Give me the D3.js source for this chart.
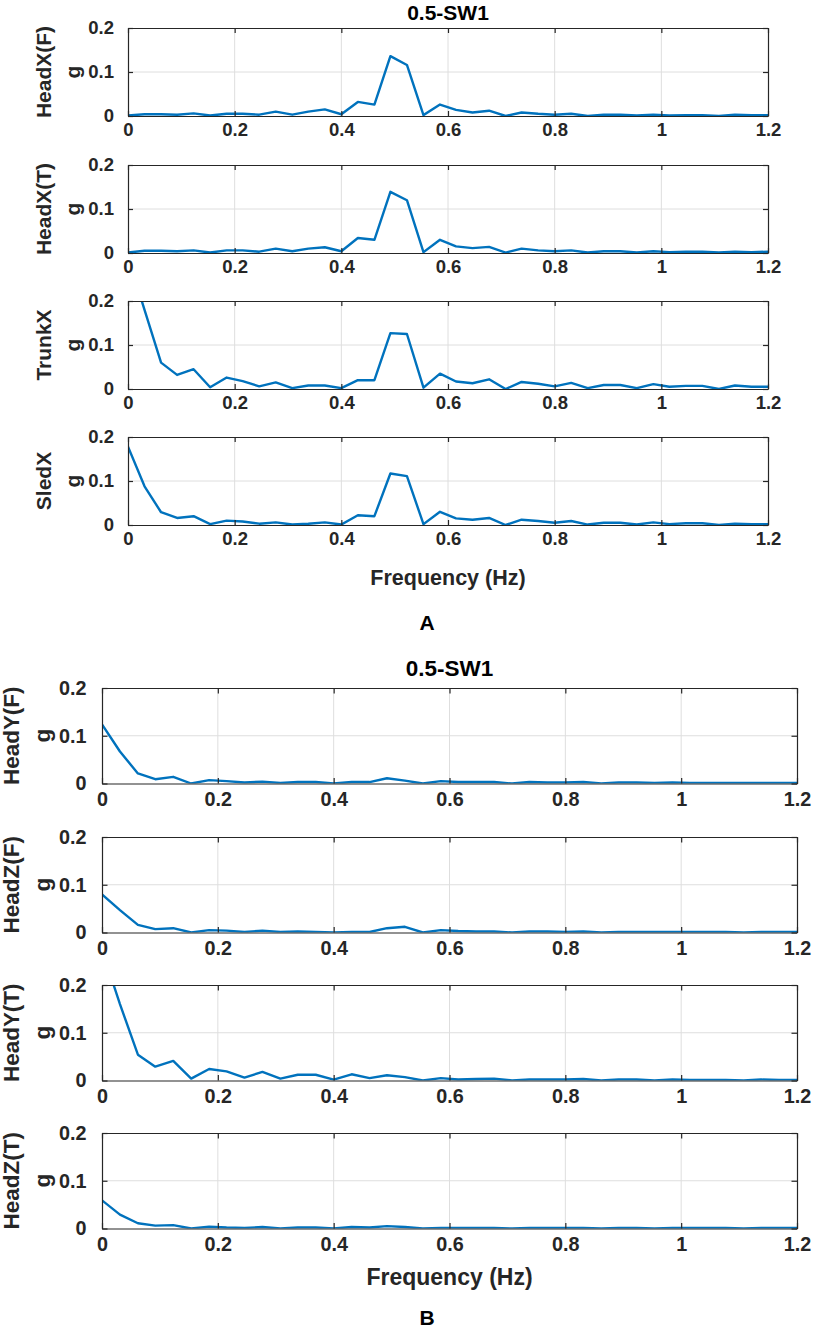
<!DOCTYPE html>
<html>
<head>
<meta charset="utf-8">
<script src="https://cdn.jsdelivr.net/npm/d3@7"></script>
<style>
  html, body { margin: 0; padding: 0; background: #fff; }
  svg { display: block; }
  text { font-family: "Liberation Sans", Arial, Helvetica, sans-serif; font-weight: bold; }
</style>
</head>
<body>
<div id="viz"></div>
<script>
// frequency bins (Hz)
const freqHz = [0, 0.031, 0.062, 0.092, 0.123, 0.154, 0.185, 0.215, 0.246, 0.277,
  0.308, 0.338, 0.369, 0.4, 0.431, 0.462, 0.492, 0.523, 0.554, 0.585,
  0.615, 0.646, 0.677, 0.708, 0.738, 0.769, 0.8, 0.831, 0.862, 0.892,
  0.923, 0.954, 0.985, 1.015, 1.046, 1.077, 1.108, 1.138, 1.169, 1.2];

// figure A: X direction
const headXF = [0.001, 0.004, 0.004, 0.003, 0.006, 0.001, 0.005, 0.005, 0.003, 0.010,
  0.003, 0.010, 0.015, 0.004, 0.032, 0.026, 0.136, 0.116, 0.002, 0.026,
  0.014, 0.008, 0.012, 0.000, 0.008, 0.005, 0.003, 0.005, 0.000, 0.003,
  0.003, 0.001, 0.003, 0.001, 0.002, 0.002, 0.000, 0.003, 0.002, 0.002];
const headXT = [0.001, 0.005, 0.005, 0.004, 0.006, 0.001, 0.006, 0.006, 0.003, 0.010,
  0.004, 0.010, 0.013, 0.004, 0.034, 0.030, 0.139, 0.120, 0.002, 0.030,
  0.015, 0.011, 0.014, 0.001, 0.010, 0.006, 0.004, 0.006, 0.001, 0.004,
  0.004, 0.001, 0.004, 0.002, 0.003, 0.003, 0.001, 0.003, 0.002, 0.003];
const trunkX = [0.300, 0.180, 0.060, 0.032, 0.045, 0.004, 0.026, 0.018, 0.006, 0.015,
  0.002, 0.008, 0.008, 0.002, 0.020, 0.020, 0.127, 0.125, 0.003, 0.035,
  0.017, 0.013, 0.022, 0.000, 0.016, 0.012, 0.006, 0.014, 0.002, 0.009,
  0.009, 0.002, 0.011, 0.005, 0.007, 0.007, 0.000, 0.008, 0.005, 0.005];
const sledX = [0.178, 0.088, 0.029, 0.016, 0.020, 0.002, 0.010, 0.008, 0.003, 0.006,
  0.001, 0.003, 0.006, 0.001, 0.022, 0.020, 0.117, 0.111, 0.002, 0.030,
  0.015, 0.012, 0.016, 0.000, 0.012, 0.009, 0.005, 0.009, 0.001, 0.005,
  0.005, 0.001, 0.006, 0.002, 0.004, 0.004, 0.000, 0.003, 0.002, 0.002];

// figure B: Y and Z directions
const headYF = [0.124, 0.067, 0.021, 0.009, 0.014, 0.000, 0.007, 0.005, 0.002, 0.004,
  0.001, 0.003, 0.003, 0.000, 0.003, 0.003, 0.011, 0.006, 0.000, 0.005,
  0.003, 0.003, 0.003, 0.000, 0.003, 0.002, 0.002, 0.003, 0.000, 0.002,
  0.002, 0.001, 0.002, 0.001, 0.001, 0.001, 0.001, 0.001, 0.001, 0.001];
const headZF = [0.080, 0.047, 0.016, 0.007, 0.009, 0.000, 0.005, 0.004, 0.001, 0.004,
  0.001, 0.002, 0.001, 0.000, 0.001, 0.001, 0.009, 0.012, 0.000, 0.005,
  0.003, 0.002, 0.002, 0.000, 0.002, 0.002, 0.001, 0.002, 0.000, 0.001,
  0.001, 0.001, 0.001, 0.001, 0.001, 0.001, 0.000, 0.001, 0.001, 0.001];
const headYT = [0.274, 0.160, 0.054, 0.029, 0.041, 0.004, 0.024, 0.019, 0.006, 0.018,
  0.004, 0.012, 0.012, 0.002, 0.013, 0.005, 0.011, 0.007, 0.000, 0.005,
  0.002, 0.003, 0.004, 0.000, 0.002, 0.002, 0.002, 0.003, 0.000, 0.002,
  0.002, 0.000, 0.002, 0.001, 0.001, 0.001, 0.000, 0.002, 0.001, 0.001];
const headZT = [0.059, 0.029, 0.011, 0.006, 0.007, 0.000, 0.004, 0.002, 0.001, 0.003,
  0.000, 0.002, 0.002, 0.000, 0.003, 0.002, 0.005, 0.003, 0.000, 0.001,
  0.001, 0.001, 0.001, 0.000, 0.001, 0.001, 0.001, 0.001, 0.000, 0.001,
  0.001, 0.000, 0.001, 0.001, 0.001, 0.001, 0.000, 0.001, 0.001, 0.001];

const xTicks = [0, 0.2, 0.4, 0.6, 0.8, 1, 1.2];
const yTicks = [0, 0.1, 0.2];
const titleText = '0.5-SW1';
const xLabelText = 'Frequency (Hz)';

const W = 815, H = 1331;
const svg = d3.select('#viz').append('svg').attr('width', W).attr('height', H);

const lineColor = '#0072bd', axisColor = '#262626', gridColor = '#dedede';

function drawFigure(cfg, rows, tag) {
  const x = d3.scaleLinear().domain([0, 1.2]).range([cfg.left, cfg.right]);
  const fs = cfg.scale;

  svg.append('text')
    .attr('x', (cfg.left + cfg.right) / 2).attr('y', cfg.titleY)
    .attr('text-anchor', 'middle').attr('font-size', 21 * fs).attr('fill', '#000')
    .text(titleText);

  rows.forEach((row, i) => {
    const top = cfg.tops[i], bottom = top + cfg.height;
    const y = d3.scaleLinear().domain([0, 0.2]).range([bottom, top]);
    const g = svg.append('g');
    const clipId = 'clip-' + tag + i;

    g.append('clipPath').attr('id', clipId).append('rect')
      .attr('x', cfg.left).attr('y', top)
      .attr('width', cfg.right - cfg.left).attr('height', cfg.height);

    // grid
    g.append('g').selectAll('line').data(xTicks.slice(1, -1)).join('line')
      .attr('x1', d => x(d)).attr('x2', d => x(d)).attr('y1', top).attr('y2', bottom)
      .attr('stroke', gridColor).attr('stroke-width', 1);
    g.append('g').selectAll('line').data(yTicks.slice(1, -1)).join('line')
      .attr('x1', cfg.left).attr('x2', cfg.right).attr('y1', d => y(d)).attr('y2', d => y(d))
      .attr('stroke', gridColor).attr('stroke-width', 1);

    // data
    const line = d3.line().x((d, j) => x(freqHz[j])).y(d => y(d));
    g.append('path').datum(row.values)
      .attr('clip-path', 'url(#' + clipId + ')')
      .attr('fill', 'none').attr('stroke', lineColor).attr('stroke-width', 2.4)
      .attr('stroke-linejoin', 'round')
      .attr('d', line);

    // axes (inner ticks, box)
    const tl = cfg.tick;
    const xb = g.append('g').attr('transform', `translate(0,${bottom})`)
      .call(d3.axisBottom(x).tickValues(xTicks).tickSizeInner(-tl).tickSizeOuter(0)
        .tickPadding(cfg.xPad + tl).tickFormat(d3.format('~g')));
    const xt = g.append('g').attr('transform', `translate(0,${top})`)
      .call(d3.axisTop(x).tickValues(xTicks).tickSizeInner(-tl).tickSizeOuter(0).tickFormat(''));
    const yl = g.append('g').attr('transform', `translate(${cfg.left},0)`)
      .call(d3.axisLeft(y).tickValues(yTicks).tickSizeInner(-tl).tickSizeOuter(0)
        .tickPadding(cfg.yPad + tl).tickFormat(d3.format('~g')));
    const yr = g.append('g').attr('transform', `translate(${cfg.right},0)`)
      .call(d3.axisRight(y).tickValues(yTicks).tickSizeInner(-tl).tickSizeOuter(0).tickFormat(''));

    [xb, xt, yl, yr].forEach(a => {
      a.select('.domain').attr('stroke', axisColor).attr('stroke-width', 1.2);
      a.selectAll('.tick line').attr('stroke', axisColor).attr('stroke-width', 1.2);
      a.selectAll('.tick text').attr('fill', axisColor)
        .attr('font-size', 18.5 * fs).attr('font-family', null).attr('font-weight', 'bold');
    });

    // y label, two lines
    const cy = (top + bottom) / 2;
    [row.label, 'g'].forEach((t, k) => {
      svg.append('text')
        .attr('transform', `translate(${cfg.labelX[k]},${cy}) rotate(-90)`)
        .attr('text-anchor', 'middle').attr('font-size', 21 * fs).attr('fill', axisColor)
        .text(t);
    });
  });

  svg.append('text')
    .attr('x', (cfg.left + cfg.right) / 2).attr('y', cfg.xLabelY)
    .attr('text-anchor', 'middle').attr('font-size', 21.5 * fs).attr('fill', axisColor)
    .text(xLabelText);

  svg.append('text')
    .attr('x', 427).attr('y', cfg.tagY)
    .attr('text-anchor', 'middle').attr('font-size', 21).attr('fill', '#000')
    .text(tag);
}

drawFigure({
  left: 128, right: 768, tops: [28, 165, 301, 437], height: 88,
  scale: 1, tick: 5, xPad: 2, yPad: 9, labelX: [50.5, 80],
  titleY: 19.5, xLabelY: 584.5, tagY: 629.5
}, [
  { label: 'HeadX(F)', values: headXF },
  { label: 'HeadX(T)', values: headXT },
  { label: 'TrunkX', values: trunkX },
  { label: 'SledX', values: sledX }
], 'A');

drawFigure({
  left: 102, right: 797, tops: [688, 837, 985, 1133], height: 95.5,
  scale: 1.07, tick: 5.5, xPad: 3, yPad: 10, labelX: [18.5, 50],
  titleY: 676, xLabelY: 1285, tagY: 1325
}, [
  { label: 'HeadY(F)', values: headYF },
  { label: 'HeadZ(F)', values: headZF },
  { label: 'HeadY(T)', values: headYT },
  { label: 'HeadZ(T)', values: headZT }
], 'B');
</script>
</body>
</html>
